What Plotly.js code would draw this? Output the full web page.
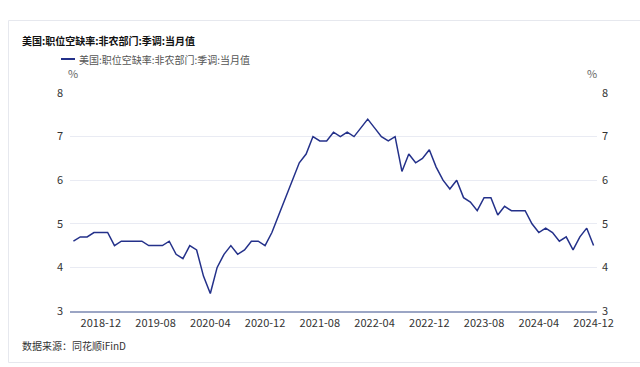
<!DOCTYPE html>
<html>
<head>
<meta charset="utf-8">
<script src="https://cdn.plot.ly/plotly-3.0.1.min.js"></script>
<style>
  html, body { margin: 0; padding: 0; background: #ffffff; }
  #chart { width: 640px; height: 367px; }
</style>
</head>
<body>
<div id="chart"></div>
<script>
// Months (category axis)
const months = [
  "2018-08","2018-09","2018-10","2018-11","2018-12",
  "2019-01","2019-02","2019-03","2019-04","2019-05","2019-06","2019-07","2019-08","2019-09","2019-10","2019-11","2019-12",
  "2020-01","2020-02","2020-03","2020-04","2020-05","2020-06","2020-07","2020-08","2020-09","2020-10","2020-11","2020-12",
  "2021-01","2021-02","2021-03","2021-04","2021-05","2021-06","2021-07","2021-08","2021-09","2021-10","2021-11","2021-12",
  "2022-01","2022-02","2022-03","2022-04","2022-05","2022-06","2022-07","2022-08","2022-09","2022-10","2022-11","2022-12",
  "2023-01","2023-02","2023-03","2023-04","2023-05","2023-06","2023-07","2023-08","2023-09","2023-10","2023-11","2023-12",
  "2024-01","2024-02","2024-03","2024-04","2024-05","2024-06","2024-07","2024-08","2024-09","2024-10","2024-11","2024-12"
];
// 美国:职位空缺率:非农部门:季调:当月值 (%)
const openingsRate = [
  4.6,4.7,4.7,4.8,4.8,
  4.8,4.5,4.6,4.6,4.6,4.6,4.5,4.5,4.5,4.6,4.3,4.2,
  4.5,4.4,3.8,3.4,4.0,4.3,4.5,4.3,4.4,4.6,4.6,4.5,
  4.8,5.2,5.6,6.0,6.4,6.6,7.0,6.9,6.9,7.1,7.0,7.1,
  7.0,7.2,7.4,7.2,7.0,6.9,7.0,6.2,6.6,6.4,6.5,6.7,
  6.3,6.0,5.8,6.0,5.6,5.5,5.3,5.6,5.6,5.2,5.4,5.3,
  5.3,5.3,5.0,4.8,4.9,4.8,4.6,4.7,4.4,4.7,4.9,4.5
];
const xTickLabels = ["2018-12","2019-08","2020-04","2020-12","2021-08","2022-04","2022-12","2023-08","2024-04","2024-12"];
const yTicks = [3,4,5,6,7,8];
const seriesName = "美国:职位空缺率:非农部门:季调:当月值";
const chartTitle = "美国:职位空缺率:非农部门:季调:当月值";
const sourceText = "数据来源：同花顺iFinD";

const FONT = '"Noto Sans CJK SC", "Noto Sans", sans-serif';
const LINE_COLOR = '#24318a';

// plot area geometry (pixels) used for paper-coordinate decorations
const L = 70, R = 597, T = 93, B = 311;
const px = x => (x - L) / (R - L);
const py = y => (B - y) / (B - T);

const traces = [
  {
    x: months, y: openingsRate, type: 'scatter', mode: 'lines',
    name: seriesName, line: { color: LINE_COLOR, width: 1.5 },
    hoverinfo: 'skip', showlegend: false
  },
  {
    x: months, y: openingsRate, type: 'scatter', mode: 'lines',
    yaxis: 'y2', line: { color: 'rgba(0,0,0,0)', width: 0 },
    hoverinfo: 'skip', showlegend: false
  }
];

const layout = {
  width: 640, height: 367,
  paper_bgcolor: '#ffffff', plot_bgcolor: '#ffffff',
  margin: { l: L, r: 640 - R, t: T, b: 367 - B, pad: 0 },
  font: { family: FONT, size: 11, color: '#333333' },
  showlegend: false,
  xaxis: {
    type: 'category',
    range: [-0.5, months.length - 0.5],
    tickmode: 'array', tickvals: xTickLabels, ticktext: xTickLabels,
    showgrid: false, zeroline: false,
    showline: true, linecolor: '#9ba5c4', linewidth: 1.5,
    ticks: '', tickfont: { family: FONT, size: 11, color: '#333333' },
    ticklabelstandoff: 1,
    fixedrange: true
  },
  yaxis: {
    range: [3, 8], tickmode: 'array', tickvals: yTicks,
    showgrid: true, gridcolor: '#e9ebf3', gridwidth: 1,
    zeroline: false, showline: false, ticks: '',
    tickfont: { family: FONT, size: 11, color: '#333333' },
    ticklabelstandoff: 6,
    fixedrange: true
  },
  yaxis2: {
    overlaying: 'y', side: 'right',
    range: [3, 8], tickmode: 'array', tickvals: yTicks,
    showgrid: false, zeroline: false, showline: false, ticks: '',
    tickfont: { family: FONT, size: 11, color: '#333333' },
    ticklabelstandoff: 4,
    fixedrange: true
  },
  shapes: [
    // outer frame
    { type: 'rect', xref: 'paper', yref: 'paper',
      x0: px(8.5), x1: px(660), y0: py(362.5), y1: py(20.5),
      line: { color: '#e6e8ee', width: 1 }, fillcolor: 'rgba(0,0,0,0)', layer: 'below' },
    // legend sample
    { type: 'line', xref: 'paper', yref: 'paper',
      x0: px(61), x1: px(75), y0: py(59), y1: py(59),
      line: { color: LINE_COLOR, width: 2 } }
  ],
  annotations: [
    { text: '<b>' + chartTitle + '</b>', xref: 'paper', yref: 'paper',
      x: px(20), y: py(40), xanchor: 'left', yanchor: 'middle', showarrow: false,
      font: { family: FONT, size: 10, color: '#111111' } },
    { text: seriesName, xref: 'paper', yref: 'paper',
      x: px(77), y: py(59), xanchor: 'left', yanchor: 'middle', showarrow: false,
      font: { family: FONT, size: 10, color: '#555555' } },
    { text: '%', xref: 'paper', yref: 'paper',
      x: px(73), y: py(73), xanchor: 'center', yanchor: 'middle', showarrow: false,
      font: { family: FONT, size: 11, color: '#666666' } },
    { text: '%', xref: 'paper', yref: 'paper',
      x: px(592), y: py(73), xanchor: 'center', yanchor: 'middle', showarrow: false,
      font: { family: FONT, size: 11, color: '#666666' } },
    { text: sourceText, xref: 'paper', yref: 'paper',
      x: px(20), y: py(345), xanchor: 'left', yanchor: 'middle', showarrow: false,
      font: { family: FONT, size: 10, color: '#333333' } }
  ]
};

Plotly.newPlot('chart', traces, layout, { displayModeBar: false, staticPlot: true });
</script>
</body>
</html>
